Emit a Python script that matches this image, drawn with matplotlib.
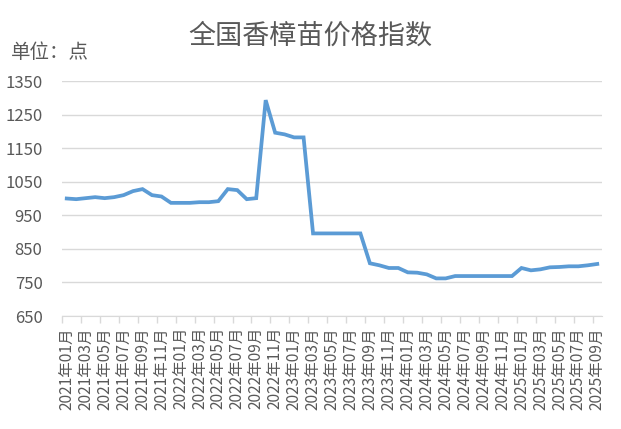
import matplotlib
matplotlib.use("Agg")
from matplotlib import pyplot as plt

plt.rcParams['font.family'] = ['Noto Sans CJK SC', 'DejaVu Sans']

# monthly index, 2021-01 .. 2025-09
months = []
for y in range(2021, 2026):
    for m in range(1, 13):
        if y == 2025 and m > 9:
            break
        months.append(f"{y}年{m:02d}月")

values = [
    1000, 998, 1001, 1004, 1001, 1004, 1010, 1022, 1028, 1010,
    1006, 987, 987, 987, 989, 989, 992, 1028, 1025, 998,
    1001, 1293, 1196, 1191, 1182, 1182, 896, 896, 896, 896,
    896, 896, 807, 801, 793, 793, 780, 779, 774, 762,
    762, 769, 769, 769, 769, 769, 769, 769, 793, 786,
    789, 795, 796, 798, 798, 801, 805,
]

yticks = [650, 750, 850, 950, 1050, 1150, 1250, 1350]

grey = '#595959'

fig = plt.figure(figsize=(6.21, 4.29), dpi=100)
ax = fig.add_axes([62/621, 1 - 316/429, 540/621, 235/429])

x = list(range(len(values)))
ax.plot(x, values, color='#5B9BD5', linewidth=2.7, solid_joinstyle='miter')

ax.set_xlim(-0.5, len(values) - 0.5)
ax.set_ylim(650, 1350)
ax.set_yticks(yticks)
ax.set_yticklabels([str(v) for v in yticks], color=grey, fontsize=12)
ax.tick_params(axis='y', length=0, pad=14)
ax.yaxis.grid(True, color='#D9D9D9', linewidth=1)
ax.set_axisbelow(True)

ax.set_xticks(x[::2])
ax.set_xticklabels(months[::2], rotation=90, color=grey, fontsize=11.2)
ax.tick_params(axis='x', length=0, pad=8)
# tick marks between categories
ax.set_xticks([i - 0.5 for i in range(0, len(values) + 1, 2)], minor=True)
ax.tick_params(axis='x', which='minor', length=5, color='#D9D9D9', width=1)

for s in ['top', 'right', 'left']:
    ax.spines[s].set_visible(False)
ax.spines['bottom'].set_color('#D9D9D9')

fig.text(310/621, 1 - 36/429, '全国香樟苗价格指数', ha='center', va='center',
         fontsize=19.5, color=grey)
fig.text(11/621, 1 - 53/429, '单位：点', ha='left', va='center',
         fontsize=14, color=grey)

fig.savefig('out.png', dpi=100)
